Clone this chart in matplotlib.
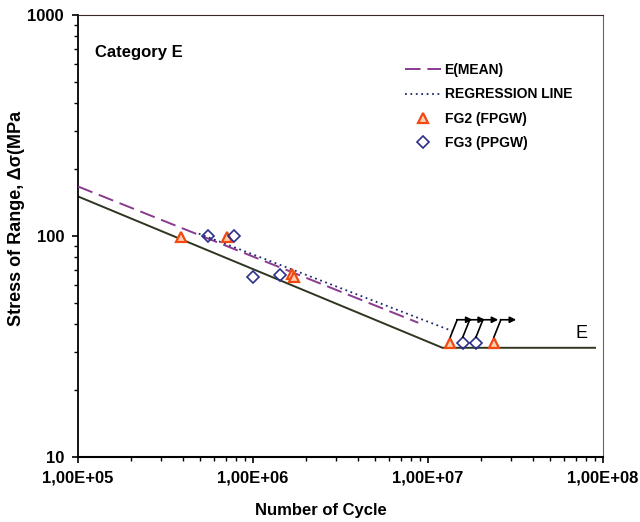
import matplotlib
matplotlib.use('Agg')
import matplotlib.pyplot as plt
from matplotlib import font_manager
from matplotlib.ticker import FixedLocator, NullFormatter, LogLocator

# fonts: condensed bold for most labels if available
names = set(f.name for f in font_manager.fontManager.ttflist)
narrow = 'Liberation Sans Narrow' if 'Liberation Sans Narrow' in names else 'Liberation Sans'

# category E design curve (AASHTO)
design_N = [1.0e5, 1.21e7, 9.0e7]
design_S = [151.0, 31.2, 31.2]

# mean curve and regression line
mean_N = [1.0e5, 8.8e6]
mean_S = [167.5, 40.5]
reg_N = [4.9e5, 1.37e7]
reg_S = [102.5, 37.2]

# FG2 (FPGW) test results
fg2_N = [3.9e5, 7.1e5, 1.66e6, 1.72e6]
fg2_S = [98.5, 99.0, 67.0, 65.5]
fg2_run_N = [1.34e7, 2.38e7]
fg2_run_S = [32.9, 32.9]

# FG3 (PPGW) test results
fg3_N = [5.5e5, 7.8e5, 1.0e6, 1.43e6]
fg3_S = [100.5, 100.5, 65.5, 66.8]
fg3_run_N = [1.58e7, 1.88e7]
fg3_run_S = [32.9, 32.9]

xticks = [1e5, 1e6, 1e7, 1e8]
xlabels = ['1,00E+05', '1,00E+06', '1,00E+07', '1,00E+08']
yticks = [10, 100, 1000]
ylabels = ['10', '100', '1000']

fig = plt.figure(figsize=(6.4, 5.22), dpi=100)
ax = fig.add_axes([78/640, 1-457/522, 525/640, 442/522])

ax.plot(design_N, design_S, color='#2e3520', lw=1.4, zorder=2)
ax.plot(mean_N, mean_S, color='#8a3a8e', lw=1.4, dashes=(8, 3.5), label='E(MEAN)', zorder=3)
ax.plot(reg_N, reg_S, color='#1d2a6e', lw=1.3, dashes=(1, 2), label='REGRESSION LINE', zorder=3)
ax.plot(fg2_N + fg2_run_N, fg2_S + fg2_run_S, ls='none', marker='^', ms=7,
        mfc='#ffd0b0', mec='#f04a12', mew=1.6, label='FG2 (FPGW)', zorder=4)
ax.plot(fg3_N + fg3_run_N, fg3_S + fg3_run_S, ls='none', marker='D', ms=6,
        mfc='none', mec='#2b2f8c', mew=1.2, label='FG3 (PPGW)', zorder=4)

# run-out arrows
for n, s in zip(fg2_run_N + fg3_run_N, fg2_run_S + fg3_run_S):
    ax.plot([n, n*1.096], [s*1.06, s*1.27], color='k', lw=1.2, zorder=5)
    ax.annotate('', xy=(n*1.34, s*1.27), xytext=(n*1.09, s*1.27),
                arrowprops=dict(arrowstyle='-|>', color='k', lw=1.2,
                                mutation_scale=9, shrinkA=0, shrinkB=0), zorder=5)

ax.text(7.5e7, 33.3, 'E', fontsize=13, family='Liberation Sans', va='bottom', ha='center')
ax.text(1.25e5, 680, 'Category E', fontsize=12, family=narrow, fontweight='bold', va='center')

ax.set_xscale('log')
ax.set_yscale('log')
ax.set_xlim(1e5, 1e8)
ax.set_ylim(10, 1000)
ax.xaxis.set_major_locator(FixedLocator(xticks))
ax.set_xticklabels(xlabels)
ax.yaxis.set_major_locator(FixedLocator(yticks))
ax.set_yticklabels(ylabels)
ax.xaxis.set_minor_locator(LogLocator(base=10, subs=range(2, 10)))
ax.yaxis.set_minor_locator(LogLocator(base=10, subs=range(2, 10)))
ax.xaxis.set_minor_formatter(NullFormatter())
ax.yaxis.set_minor_formatter(NullFormatter())
ax.tick_params(which='major', direction='out', length=4, width=1.2, pad=6)
ax.tick_params(which='minor', direction='out', length=3, width=1.0)
for lab in ax.get_xticklabels() + ax.get_yticklabels():
    lab.set_family(narrow)
    lab.set_fontweight('bold')
    lab.set_fontsize(12)

ax.spines['left'].set_linewidth(1.3)
ax.spines['bottom'].set_linewidth(1.5)
ax.spines['top'].set_color('#3b2626')
ax.spines['right'].set_color('#666666')

leg = ax.legend(loc='upper left', bbox_to_anchor=(405/640, 1-63/522),
                bbox_transform=fig.transFigure, frameon=False, borderpad=0,
                borderaxespad=0, handlelength=2.6, handletextpad=0.25,
                labelspacing=0.75, prop={'family': narrow, 'weight': 'bold', 'size': 10})

fig.text(17/640, 1-218/522, 'Stress of Range, \u0394\u03c3(MPa', rotation=90,
         ha='center', va='center', fontsize=13, fontweight='bold', family='Liberation Sans')
fig.text(321/640, 1-510/522, 'Number of Cycle', ha='center', va='center',
         fontsize=12, fontweight='bold', family=narrow)

fig.savefig('out.png', dpi=100)
